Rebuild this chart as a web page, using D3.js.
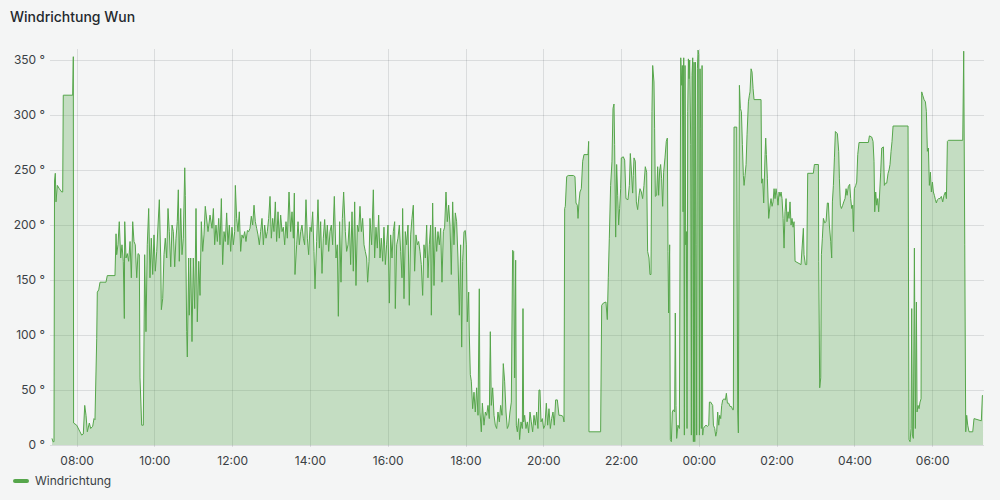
<!DOCTYPE html>
<html>
<head>
<meta charset="utf-8">
<script src="https://cdn.jsdelivr.net/npm/d3@7"></script>
<style>
  html, body { margin: 0; padding: 0; background: #f4f5f5; }
  svg { display: block; font-family: Inter, "Open Sans", sans-serif; }
</style>
</head>
<body>
<svg id="chart" width="1000" height="500"></svg>
<script>
// ---- data ----
const chartTitle = "Windrichtung Wun";
const seriesName = "Windrichtung";
const windowStart = [2024, 4, 1, 7, 22];   // 07:22 local
const windowLengthMin = 1438;              // until 07:20 next day
const yTicks = [0, 50, 100, 150, 200, 250, 300, 350];
const xTickLabels = ["08:00", "10:00", "12:00", "14:00", "16:00", "18:00", "20:00", "22:00", "00:00", "02:00", "04:00", "06:00"];

// minutes after window start
const minutes = [
  0,1.5,3.1,3.9,5.1,6.2,8.2,11.3,15,16.5,
  17.4,31.9,32.9,33.3,38.1,43.2,45.8,48.3,50.5,52.5,
  54.5,57.6,59.7,62.8,64.8,66.3,69,69.9,72.1,74.1,
  83.3,85.3,97.2,98.8,99.8,101.8,103.8,106,108,110,
  111.6,112.2,114.2,116.2,118.3,120.4,122.4,124.5,126.5,128.5,
  130.7,132.7,134.7,135.8,138.4,140.9,143,145,147,149.2,
  151.2,153.2,155.4,157.4,159.4,161.6,163.6,165.6,167.7,168.7,
  170.8,172.8,174.8,177,179,181,183.2,185.2,187.2,189.3,
  191.3,193.3,194.9,196.4,198.6,200.6,202.6,204.8,205.7,207.8,
  208.8,210.9,211.8,214,216,218,220.2,222.2,224.2,226.4,
  228.4,230.4,232.5,234.5,236.5,
  240.7,243.8,246.9,249,251,253,255.1,257.2,259.2,261.3,
  263.3,265.4,267.4,269.5,271.5,273.6,275.7,277.7,279.8,281.8,
  282.9,284.9,287,289,291.1,293.1,295.2,297.3,299.3,301.4,
  303.4,305.5,307.5,309.6,311.7,313.7,315.8,317.8,319.9,321.9,
  324,326.1,328.1,330.2,332.2,334.3,336.4,338.4,340.5,342.5,
  344.6,346.6,348.7,350.7,352.8,354.9,356.9,359,361,363.1,
  365.7,368.2,370.3,372.4,373.9,374.9,377.5,379.6,381.6,383.7,
  385.7,387.8,389.8,391.9,394,396,398.1,400.1,402.2,404.2,
  405.8,408.3,410.4,412.5,414.5,416.6,418.6,420.7,422.8,424.8,
  426.9,428.9,431,433,435.6,438.2,440.2,441.8,443.8,445.9,
  448,450,452.6,454.6,456.7,458.8,460.8,462.9,464.9,467,
  469,471.1,473.2,475.2,477.3,479.3,481.4,483.4,485.5,487,
  489.1,
  490.6,493.2,495.8,497.8,499.9,501.9,504,506.1,508.1,510.2,
  512.2,514.3,516.3,518.4,520.5,522.5,524.6,526.6,528.7,529.7,
  531.8,533.8,535.9,537.9,540,541,543.1,545.1,547.2,549.3,
  551.3,553.4,555.4,557.5,559.5,561.6,563.7,565.7,567.8,569.8,
  571.9,573.9,576,578.1,580.1,582.2,584.2,585.3,587.3,589.4,
  591.4,593.5,595.5,597.6,599.7,601.7,603.8,605.8,607.9,609.9,
  612,614.1,616.1,618.2,620.2,622.3,624.3,626.4,628.5,630.5,
  632.1,633.6,635.7,637.7,639.3,640.8,642.9,643.9,645.4,647,
  649,651.1,653.1,655.2,657.3,659.3,660.3,662.4,664,666.5,
  668.6,670.6,672.7,674.7,676.3,677.8,679.9,682,684,686.1,
  688.1,690.2,692.2,694.3,696.3,698.4,700.5,702.5,704.6,706.6,
  708.7,710.7,712.3,713.8,715.4,716.4,718,720,721.5,723.6,
  725.7,726.7,727.7,729.3,731.3,733.4,735.4,737.5,739.5,741.6,
  743.7,745.7,747.8,749.8,751.4,752.9,754.5,756.5,758.6,760.6,
  762.7,764.8,766.8,768.9,770.9,773,775,777.1,779.7,782.2,
  785.3,788.4,790,791,792,794.1,796.6,804.4,806.9,808.5,
  810.5,811.6,813.1,814.6,816.7,818.8,820.8,827,828,828.5,
  846.5,848.1,850.6,854.7,856.8,858.3,859.9,861.9,864,865.6,
  867.1,868.1,869.7,871.2,872.8,874.3,875.8,877.4,878.4,881.5,
  883.6,885.6,888.7,890.8,892.3,893.9,895.9,896.9,898,900,
  901.6,903.6,905.7,907.2,909.3,911.3,913.4,915.4,917.5,919,
  921.1,922.6,924.2,925.7,926.8,928.8,929.8,930.9,932.9,934.5,
  936,937.6,939.1,940.6,942.2,943.7,945.8,947.8,949.4,950.4,
  951.4,953,954,955.6,957.1,958.7,960.7,961.7,962.8,963.8,
  965.8,
  968,970.1,971.6,972.6,973.7,974.7,975.7,976.7,977.8,978.8,
  979.8,980.9,981.9,982.9,983.9,985.5,986.5,987.5,988.6,989.6,
  990.6,991.7,992.7,993.7,994.7,995.8,996.8,997.8,998.9,999.9,
  1000.9,1001.9,1003,1004,1005,1007.1,1009.1,1011.2,1013.3,1014.3,
  1016.3,1019.4,1020.5,1022.5,1024.1,1025.6,1027.1,1028.7,1030.2,1031.8,
  1033.3,1034.9,1036.9,1039,1040.5,1042.1,1044.1,1046.2,1048.2,1050.3,
  1051.3,1052.3,1056.5,1058,1059,1060.6,1062.1,1063.7,1065.2,1066.7,
  1067.8,1069.3,1070.9,1072.4,1074.5,1076,1077,1078.6,1080.1,1081.7,
  1083.2,1094,1095,1096.6,1098.1,1100.2,1101.2,1102.2,1103.8,1105.8,
  1107.9,1109.4,1111,1112.5,1114.1,1115.6,1117.1,1118.7,1120.2,1121.8,
  1123.3,1124.9,1126.4,1128,1129.5,1131,1132.6,1134.1,1135.7,1137.2,
  1138.7,1140.3,1141.8,1143.4,1144.9,1146.5,1155.7,1157.3,1159.3,1160.3,
  1162.4,1164.5,1166,1174.7,1176.3,1182.5,1183,1184.5,1186.1,1187.1,
  1188.6,1190.2,1192.2,1194.3,1196.3,1197.9,1199.4,1201.5,1203,1204.1,
  1205.6,1207.2,1208.7,1211.8,1213.8,1214.9,1216.4,1218,1220,1221.6,
  1223.6,1225.2,1226.7,1228.7,1230.8,1232.3,1233.9,1235.4,1236.5,1238,
  1240.1,1241.6,1243.2,1245.2,1259.6,1261.2,1264.7,1266.8,1268.3,1269.4,
  1270.9,1272.5,1274,1275.5,1277.1,1278.6,1280.2,1282.8,1284.3,1285.8,
  1287.9,1290,1291.5,1293,1294.6,1296.1,1297.7,1320.8,1322.3,1323.9,
  1325.4,1326.5,1327.5,1329,1330.6,1332.1,1333.7,1334.7,1336.2,1337.8,
  1339.3,1340.9,1341.9,1343.4,1345.5,1347.6,1349.1,1350.6,1352.2,1353.7,
  1355.3,1356.8,1358.4,1359.9,1361.4,1363,1364.5,1366.1,1368.1,1370.2,
  1372.2,1374.3,1376.3,1378.4,1380,1381.5,1383,1405.2,1406.7,1408.3,
  1409.8,1411.3,1412.9,1414.9,1420.6,1422.6,1433.9,1435.5,1436.5
];

// wind direction in degrees
const degrees = [
  6,3,3,240,247,221,236,233,230,230,
  318,318,353,20,18,12,9,10,36,27,
  12,20,15,17,24,23,97,139,141,148,
  148,154,154,192,173,182,203,170,182,167,
  115,203,170,174,167,185,152,203,185,182,
  152,174,173,61,18,18,173,103,182,215,
  152,188,155,191,158,176,200,223,170,123,
  133,173,188,170,215,194,162,200,194,162,
  188,203,232,167,215,173,188,252,227,103,
  80,170,118,170,94,170,124,215,112,167,
  136,203,176,191,217,
  194,209,197,215,182,200,185,206,182,224,
  164,194,185,211,182,200,176,198,182,194,
  236,206,194,212,176,191,188,194,185,195,
  194,197,208,200,218,203,197,191,182,194,
  206,182,200,188,194,206,226,188,206,194,
  221,185,212,188,209,194,198,182,203,188,
  230,194,212,188,229,155,182,203,182,194,
  200,188,182,223,188,173,198,194,212,176,
  142,185,223,179,203,156,188,205,182,200,
  176,194,200,182,226,170,182,117,203,148,
  206,230,194,176,182,203,164,212,158,221,
  145,200,194,217,194,206,182,176,170,148,
  167,
  206,182,232,170,198,179,209,170,188,167,
  198,164,182,200,129,191,170,194,203,124,
  182,188,200,176,152,215,133,194,182,200,
  127,191,206,218,158,191,182,185,176,164,
  136,182,170,200,152,182,200,118,220,145,
  198,176,194,182,197,148,194,198,230,203,
  218,200,155,221,182,211,203,170,118,182,
  89,167,194,195,182,112,139,100,64,58,
  33,48,30,52,27,142,30,12,38,18,
  30,27,36,24,103,36,52,27,18,15,
  30,21,36,27,74,58,30,15,18,30,
  39,177,176,61,168,18,12,24,5,21,
  15,124,21,27,15,21,11,30,21,12,
  27,18,30,15,50,50,21,24,15,18,
  38,18,33,15,24,30,18,41,41,27,
  27,26,21,215,217,244,245,245,244,220,
  218,206,221,230,233,258,264,264,276,12,
  12,127,129,130,114,152,188,236,258,306,
  310,273,189,255,227,200,215,233,261,262,
  259,224,223,236,265,250,229,245,261,258,
  221,214,227,233,230,224,236,253,248,176,
  170,155,155,303,345,330,288,226,227,253,
  227,250,255,242,217,248,261,276,279,176,
  120,182,5,3,30,32,30,120,36,6,
  18,
  15,352,327,345,212,352,9,345,182,194,
  15,303,351,333,350,273,9,336,352,3,
  348,3,348,182,9,342,359,355,9,342,
  288,15,345,9,15,17,18,17,18,39,
  39,36,18,15,8,12,30,18,27,24,
  36,41,42,41,47,38,38,35,35,32,
  32,289,289,30,11,327,306,303,273,245,
  236,245,255,282,312,318,321,342,339,324,
  314,314,238,242,220,264,279,264,242,206,
  218,224,217,221,233,224,233,227,218,230,
  226,230,224,206,179,212,224,203,212,206,
  221,200,206,198,203,167,164,179,197,173,
  164,164,247,247,255,255,167,52,61,173,
  188,206,202,203,220,220,200,185,170,221,
  236,261,285,283,267,242,218,215,218,221,
  224,233,227,235,237,224,215,218,194,233,
  236,239,264,275,275,281,280,276,258,212,
  230,218,224,212,230,248,270,271,236,238,
  238,247,250,255,267,276,290,290,5,3,
  15,124,9,6,179,15,130,30,36,33,
  39,42,321,318,314,312,303,267,270,236,
  248,230,239,230,227,223,220,223,224,224,
  226,221,227,230,224,276,277,277,358,182,
  12,27,18,12,12,24,22,45,45
];

// ---- chart ----
const svg = d3.select("#chart");
const W = 1000, H = 500;
const plotLeft = 52, plotRight = 984, plotTop = 49, plotBottom = 445;

const start = new Date(windowStart[0], windowStart[1], windowStart[2], windowStart[3], windowStart[4]);
const end = new Date(start.getTime() + windowLengthMin * 60000);

const data = minutes.map((m, i) => ({ t: new Date(start.getTime() + m * 60000), v: degrees[i] }));

const x = d3.scaleTime().domain([start, end]).range([plotLeft, plotRight]);
const y = d3.scaleLinear().domain([0, 360]).range([plotBottom, plotTop]);

// x tick dates from labels (day rollover after midnight)
const xTickDates = xTickLabels.map(lbl => {
  const [hh, mm] = lbl.split(":").map(Number);
  const d = new Date(start.getFullYear(), start.getMonth(), start.getDate(), hh, mm);
  if (d < start) d.setDate(d.getDate() + 1);
  return d;
});

svg.append("rect").attr("width", W).attr("height", H).attr("fill", "#f4f5f5");

// title
svg.append("text")
  .attr("x", 10).attr("y", 22)
  .attr("font-size", 14).attr("font-weight", 500)
  .attr("fill", "#24292e")
  .text(chartTitle);

// grid
const grid = svg.append("g");
grid.selectAll("line.h").data(yTicks).join("line")
  .attr("x1", plotLeft - 2).attr("x2", plotRight)
  .attr("y1", d => Math.round(y(d)) + 0.5).attr("y2", d => Math.round(y(d)) + 0.5)
  .attr("stroke", "rgba(36,41,46,0.12)").attr("stroke-width", 1);
grid.selectAll("line.v").data(xTickDates).join("line")
  .attr("x1", d => Math.round(x(d)) + 0.5).attr("x2", d => Math.round(x(d)) + 0.5)
  .attr("y1", plotTop).attr("y2", plotBottom + 2)
  .attr("stroke", "rgba(36,41,46,0.12)").attr("stroke-width", 1);

// area + line
const area = d3.area().x(d => x(d.t)).y0(y(0)).y1(d => y(d.v));
const line = d3.line().x(d => x(d.t)).y(d => y(d.v));

svg.append("path").datum(data)
  .attr("d", area)
  .attr("fill", "#56a64b").attr("fill-opacity", 0.3);
svg.append("path").datum(data)
  .attr("d", line)
  .attr("fill", "none").attr("stroke", "#56a64b").attr("stroke-width", 1)
  .attr("stroke-linejoin", "round");

// y axis
const yAxis = d3.axisLeft(y).tickValues(yTicks).tickFormat(d => d + " °").tickSize(0).tickPadding(0);
const yg = svg.append("g").attr("transform", `translate(${plotLeft - 7},0)`).call(yAxis);
yg.select(".domain").remove();
yg.selectAll("text").attr("font-size", 12).attr("fill", "#3a3f44").attr("font-family", "Inter, sans-serif");

// x axis
const xAxis = d3.axisBottom(x).tickValues(xTickDates).tickFormat((d, i) => xTickLabels[i]).tickSize(0).tickPadding(0);
const xg = svg.append("g").attr("transform", `translate(0,${plotBottom + 11})`).call(xAxis);
xg.select(".domain").remove();
xg.selectAll("text").attr("font-size", 12).attr("fill", "#3a3f44").attr("font-family", "Inter, sans-serif");

// legend
svg.append("line")
  .attr("x1", 15).attr("x2", 27).attr("y1", 481).attr("y2", 481)
  .attr("stroke", "#56a64b").attr("stroke-width", 4).attr("stroke-linecap", "round");
svg.append("text")
  .attr("x", 35).attr("y", 485)
  .attr("font-size", 12).attr("fill", "#3a3f44")
  .text(seriesName);
</script>
</body>
</html>
